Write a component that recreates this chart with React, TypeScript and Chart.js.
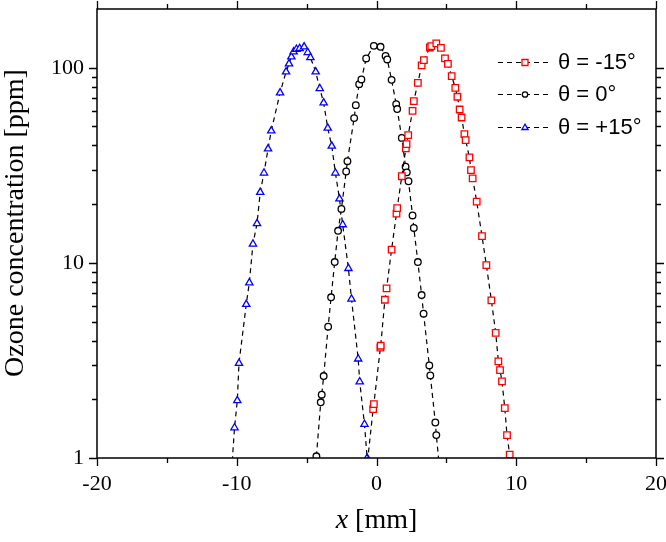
import React, { useEffect, useRef } from 'react';
import { Chart, registerables } from 'chart.js';

Chart.register(...registerables);

// θ = -15° (red squares)
const xMinus15 = [-0.85, -0.24, -0.19, 0.28, 0.3, 0.6, 0.72, 1.08, 1.43, 1.48, 1.81, 2.1, 2.15, 2.27, 2.58, 2.67, 2.96, 3.23, 3.39, 3.82, 3.92, 4.28, 4.61, 4.9, 5.11, 5.38, 5.64, 5.79, 5.95, 6.09, 6.29, 6.38, 6.65, 6.76, 6.88, 7.17, 7.55, 7.86, 8.22, 8.53, 8.72, 8.84, 8.98, 9.18, 9.34, 9.53];
const yMinus15 = [0.7, 1.78, 1.89, 3.68, 3.76, 6.47, 7.4, 11.7, 17.9, 19.1, 27.8, 38.6, 40.6, 45.2, 60.1, 67.4, 83.7, 102.8, 109.4, 127, 129, 133.2, 126.5, 111.6, 104.7, 90.6, 78.9, 71.0, 61.1, 55.6, 45.7, 42.6, 34.7, 29.9, 27.1, 20.6, 13.7, 9.74, 6.43, 4.38, 3.13, 2.82, 2.47, 1.8, 1.31, 1.04];

// θ = 0° (black circles)
const x0 = [-4.3, -3.99, -3.92, -3.78, -3.46, -3.25, -2.99, -2.75, -2.51, -2.17, -2.08, -1.6, -1.48, -1.24, -1.08, -0.74, -0.19, 0.29, 0.65, 0.77, 1.08, 1.41, 1.48, 1.81, 2.08, 2.17, 2.29, 2.58, 2.67, 2.96, 3.23, 3.37, 3.78, 3.85, 4.21, 4.28, 4.65];
const y0 = [1.02, 1.93, 2.11, 2.63, 4.71, 6.66, 10.1, 14.6, 18.9, 29.4, 33.2, 55.2, 64.3, 82.4, 87.1, 111.6, 129.5, 128, 115, 110.3, 86.7, 65.1, 61.4, 43.7, 31.1, 29.1, 26.2, 17.5, 15.1, 10.1, 6.84, 5.49, 2.98, 2.65, 1.52, 1.31, 0.7];

// θ = +15° (blue triangles)
const xPlus15 = [-10.45, -10.16, -9.96, -9.84, -9.32, -9.1, -8.84, -8.55, -8.32, -8.05, -7.76, -7.53, -6.9, -6.47, -6.26, -6.09, -5.93, -5.73, -5.5, -5.18, -4.92, -4.73, -4.35, -4.06, -3.78, -3.49, -3.2, -2.94, -2.65, -2.42, -2.01, -1.79, -1.31, -1.2, -0.86, -0.67];
const yPlus15 = [0.7, 1.43, 1.97, 3.06, 6.13, 7.91, 12.5, 15.9, 23.0, 28.9, 38.4, 47.5, 74.4, 95.3, 104.7, 113.7, 120.6, 124.5, 125.6, 128, 119.8, 112.9, 95.3, 78.3, 66.1, 49.1, 39.7, 28.9, 21.3, 15.7, 9.37, 6.53, 3.22, 2.46, 1.49, 1.0];

const seriesLabels = ['θ = -15°', 'θ = 0°', 'θ = +15°'];
const seriesColors = ['#ff0000', '#000000', '#0000ff'];
const seriesStyles = ['rect', 'circle', 'triangle'];

const xMajorTicks = [-20, -10, 0, 10, 20];
const xMinorTicks = [-15, -5, 5, 15];
const yMajorTicks = [1, 10, 100];
const yMinorTicks = [2, 3, 4, 5, 6, 7, 8, 9, 20, 30, 40, 50, 60, 70, 80, 90];

const xTitleVar = 'x';
const xTitleUnit = ' [mm]';
const yTitle = 'Ozone concentration [ppm]';

const toPoints = (xs: number[], ys: number[]) => xs.map((x, i) => ({ x, y: ys[i] }));

const SERIF = '"Liberation Serif", "Times New Roman", serif';
const SANS = '"Liberation Sans", Arial, sans-serif';

function drawMarker(ctx: CanvasRenderingContext2D, style: string, x: number, y: number, r: number, color: string) {
  ctx.save();
  ctx.setLineDash([]);
  ctx.strokeStyle = color;
  ctx.fillStyle = '#ffffff';
  ctx.lineWidth = 1.3;
  ctx.beginPath();
  if (style === 'rect') {
    ctx.rect(x - r, y - r, 2 * r, 2 * r);
  } else if (style === 'circle') {
    ctx.arc(x, y, r, 0, Math.PI * 2);
  } else {
    const h = r * 1.1;
    ctx.moveTo(x, y - h);
    ctx.lineTo(x + h * 0.95, y + h * 0.6);
    ctx.lineTo(x - h * 0.95, y + h * 0.6);
    ctx.closePath();
  }
  ctx.fill();
  ctx.stroke();
  ctx.restore();
}

const framePlugin = {
  id: 'framePlugin',
  afterDraw(chart: any) {
    const { ctx, chartArea: a, scales } = chart;
    const xs = scales.x;
    const ys = scales.y;
    ctx.save();
    ctx.strokeStyle = '#000';
    ctx.lineWidth = 1.5;
    ctx.setLineDash([]);
    ctx.strokeRect(a.left, a.top, a.right - a.left, a.bottom - a.top);

    const major = 8;
    const minor = 5;
    ctx.lineWidth = 1.3;
    ctx.beginPath();
    const xt = (v: number, len: number) => {
      const px = Math.round(xs.getPixelForValue(v)) + 0.5;
      ctx.moveTo(px, a.bottom);
      ctx.lineTo(px, a.bottom + len);
      ctx.moveTo(px, a.top);
      ctx.lineTo(px, a.top - len);
    };
    const yt = (v: number, len: number) => {
      const py = Math.round(ys.getPixelForValue(v)) + 0.5;
      ctx.moveTo(a.left, py);
      ctx.lineTo(a.left - len, py);
      ctx.moveTo(a.right, py);
      ctx.lineTo(a.right + len, py);
    };
    xMajorTicks.forEach((v) => xt(v, major));
    xMinorTicks.forEach((v) => xt(v, minor));
    yMajorTicks.forEach((v) => yt(v, major));
    yMinorTicks.forEach((v) => yt(v, minor));
    ctx.stroke();

    // axis titles
    ctx.fillStyle = '#000';
    ctx.textBaseline = 'alphabetic';
    ctx.font = 'italic 28px ' + SERIF;
    const w1 = ctx.measureText(xTitleVar).width;
    ctx.font = '28px ' + SERIF;
    const w2 = ctx.measureText(xTitleUnit).width;
    const cx = (a.left + a.right) / 2;
    const sx = cx - (w1 + w2) / 2;
    ctx.font = 'italic 28px ' + SERIF;
    ctx.fillText(xTitleVar, sx, 528);
    ctx.font = '28px ' + SERIF;
    ctx.fillText(xTitleUnit, sx + w1, 528);

    ctx.save();
    ctx.translate(23, 223);
    ctx.rotate(-Math.PI / 2);
    ctx.textAlign = 'center';
    ctx.font = '28px ' + SERIF;
    ctx.fillText(yTitle, 0, 0);
    ctx.restore();

    // legend
    const rowsY = [62, 94, 127];
    ctx.font = '22px ' + SANS;
    ctx.textAlign = 'left';
    ctx.textBaseline = 'middle';
    seriesLabels.forEach((lab, i) => {
      const y = rowsY[i] + 0.5;
      ctx.save();
      ctx.strokeStyle = '#000';
      ctx.lineWidth = 1.2;
      ctx.setLineDash([5, 4]);
      ctx.beginPath();
      ctx.moveTo(498, y);
      ctx.lineTo(549, y);
      ctx.stroke();
      ctx.restore();
      drawMarker(ctx, seriesStyles[i], 525, y, seriesStyles[i] === 'circle' ? 2.7 : 3, seriesColors[i]);
      ctx.fillStyle = '#000';
      ctx.fillText(lab, 558, rowsY[i] + 1);
    });
    ctx.restore();
  },
};

export default function App() {
  const ref = useRef<HTMLCanvasElement>(null);
  useEffect(() => {
    if (!ref.current) return;
    const mk = (xs: number[], ys: number[], i: number) => ({
      label: seriesLabels[i],
      data: toPoints(xs, ys),
      showLine: true,
      borderColor: '#000',
      borderWidth: 1.2,
      borderDash: [5, 4],
      pointStyle: seriesStyles[i],
      pointRadius: seriesStyles[i] === 'rect' ? 4.6 : seriesStyles[i] === 'circle' ? 3.3 : 4.2,
      pointBorderWidth: 1.3,
      pointBorderColor: seriesColors[i],
      pointBackgroundColor: '#ffffff',
      fill: false,
      tension: 0,
    });
    const chart = new Chart(ref.current, {
      type: 'scatter',
      data: {
        datasets: [mk(xMinus15, yMinus15, 0), mk(x0, y0, 1), mk(xPlus15, yPlus15, 2)],
      },
      options: {
        animation: false,
        responsive: false,
        events: [],
        layout: { padding: { left: 0, top: 9, right: 10, bottom: 0 } },
        plugins: { legend: { display: false }, tooltip: { enabled: false } },
        scales: {
          x: {
            type: 'linear',
            min: -20,
            max: 20,
            grid: { display: false, drawTicks: false },
            border: { display: false },
            ticks: {
              stepSize: 10,
              autoSkip: false,
              maxRotation: 0,
              padding: 13,
              color: '#000',
              font: { family: SERIF, size: 22 },
            },
            afterFit: (s: any) => {
              s.height = 84;
              s.paddingLeft = 0;
              s.paddingRight = 0;
            },
          },
          y: {
            type: 'logarithmic',
            min: 1,
            max: 200,
            grid: { display: false, drawTicks: false },
            border: { display: false },
            afterBuildTicks: (s: any) => {
              s.ticks = yMajorTicks.map((v) => ({ value: v }));
            },
            ticks: {
              autoSkip: false,
              padding: 13,
              color: '#000',
              font: { family: SERIF, size: 22 },
              callback: (v: any) => String(v),
            },
            afterFit: (s: any) => {
              s.width = 97;
              s.paddingTop = 0;
              s.paddingBottom = 0;
            },
          },
        },
      },
      plugins: [framePlugin],
    } as any);
    return () => chart.destroy();
  }, []);
  return (
    <div style={{ position: 'fixed', left: 0, top: 0, width: 666, height: 542, background: '#ffffff' }}>
      <canvas ref={ref} width={666} height={542} style={{ display: 'block', width: 666, height: 542 }} />
    </div>
  );
}
